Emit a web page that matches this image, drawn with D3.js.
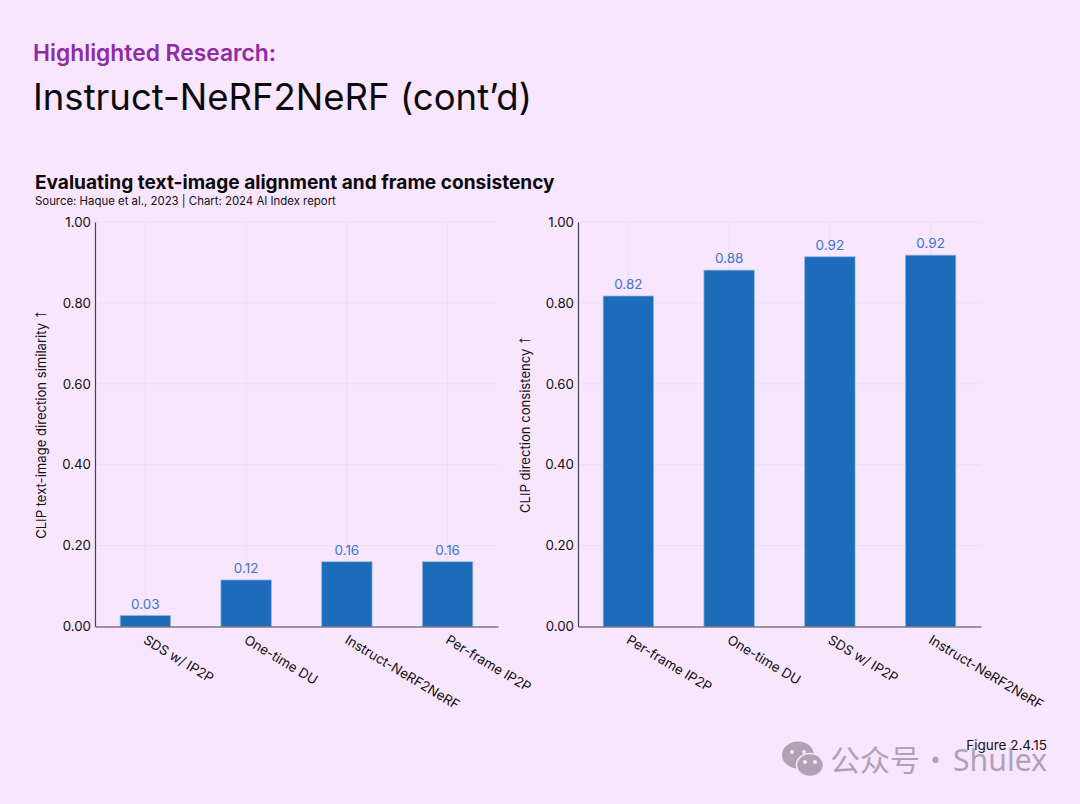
<!DOCTYPE html>
<html>
<head>
<meta charset="utf-8">
<script src="https://cdn.jsdelivr.net/npm/d3@7"></script>
<style>
  html, body { margin: 0; padding: 0; background: #f8e5fe; }
  svg { display: block; }
  text { font-family: Inter, "Noto Sans", sans-serif; }
</style>
</head>
<body>
<div id="chart"></div>
<script>
const leftCategories = ['SDS w/ IP2P', 'One-time DU', 'Instruct-NeRF2NeRF', 'Per-frame IP2P'];
const leftValues = [0.027, 0.115, 0.16, 0.16];
const leftLabels = ['0.03', '0.12', '0.16', '0.16'];

const rightCategories = ['Per-frame IP2P', 'One-time DU', 'SDS w/ IP2P', 'Instruct-NeRF2NeRF'];
const rightValues = [0.817, 0.881, 0.914, 0.918];
const rightLabels = ['0.82', '0.88', '0.92', '0.92'];

const yTicks = [0, 0.2, 0.4, 0.6, 0.8, 1];

const width = 1080;
const height = 804;
const plotTop = 222;
const plotBottom = 626.5;

const svg = d3.select('#chart')
  .append('svg')
  .attr('width', width)
  .attr('height', height);

svg.append('rect')
  .attr('width', width)
  .attr('height', height)
  .attr('fill', '#f8e5fe');

// Headings
svg.append('text')
  .attr('x', 33).attr('y', 61)
  .attr('font-size', 22.8).attr('font-weight', 600)
  .attr('fill', '#8f2ba3')
  .text('Highlighted Research:');
svg.append('text')
  .attr('x', 33).attr('y', 110)
  .attr('font-size', 36.5).attr('font-weight', 400)
  .attr('fill', '#0a0a0a')
  .text('Instruct-NeRF2NeRF (cont’d)');
svg.append('text')
  .attr('x', 35).attr('y', 188.5)
  .attr('font-size', 19.1).attr('font-weight', 700)
  .attr('fill', '#0a0a0a')
  .text('Evaluating text-image alignment and frame consistency');
svg.append('text')
  .attr('x', 35).attr('y', 205)
  .attr('font-size', 11.4)
  .attr('fill', '#111')
  .text('Source: Haque et al., 2023 | Chart: 2024 AI Index report');

function drawPanel(x0, x1, categories, values, labels, yTitle, titleX) {
  const x = d3.scaleBand().domain(categories).range([x0, x1]).paddingInner(0.5).paddingOuter(0.25);
  const y = d3.scaleLinear().domain([0, 1]).range([plotBottom, plotTop]);
  const g = svg.append('g');

  // Grid
  g.append('g').selectAll('line')
    .data(yTicks.slice(1))
    .enter().append('line')
    .attr('x1', x0).attr('x2', x1)
    .attr('y1', d => y(d)).attr('y2', d => y(d))
    .attr('stroke', '#f0dcf6').attr('stroke-width', 1);
  g.append('g').selectAll('line')
    .data(categories)
    .enter().append('line')
    .attr('x1', d => x(d) + x.bandwidth() / 2)
    .attr('x2', d => x(d) + x.bandwidth() / 2)
    .attr('y1', plotTop).attr('y2', plotBottom)
    .attr('stroke', '#f0dcf6').attr('stroke-width', 1);

  // Bars
  g.append('g').selectAll('rect')
    .data(categories)
    .enter().append('rect')
    .attr('x', d => x(d))
    .attr('y', (d, i) => y(values[i]))
    .attr('width', x.bandwidth())
    .attr('height', (d, i) => plotBottom - y(values[i]))
    .attr('fill', '#1c6cb9')
    .attr('stroke', '#8db4e4').attr('stroke-width', 0.7);

  // Value labels
  g.append('g').selectAll('text')
    .data(categories)
    .enter().append('text')
    .attr('x', d => x(d) + x.bandwidth() / 2)
    .attr('y', (d, i) => y(values[i]) - 7)
    .attr('text-anchor', 'middle')
    .attr('font-size', 13.5)
    .attr('fill', '#3a78c9')
    .text((d, i) => labels[i]);

  // Y axis
  const yAxis = g.append('g')
    .attr('transform', 'translate(' + x0 + ',0)')
    .call(d3.axisLeft(y).tickValues(yTicks).tickFormat(d3.format('.2f')).tickSize(0).tickPadding(4));
  yAxis.select('.domain').attr('stroke', '#444').attr('stroke-width', 1.2);
  yAxis.selectAll('text')
    .attr('font-size', 13.3).attr('fill', '#111')
    .style('font-family', 'Inter, "Noto Sans", sans-serif');

  // X axis
  const xAxis = g.append('g')
    .attr('transform', 'translate(0,' + plotBottom + ')')
    .call(d3.axisBottom(x).tickSize(0).tickFormat(''));
  xAxis.select('.domain').attr('stroke', '#444').attr('stroke-width', 1.2);
  xAxis.selectAll('.tick text').remove();

  // Rotated category labels, start-anchored under each bar
  g.append('g').selectAll('text')
    .data(categories)
    .enter().append('text')
    .attr('transform', d => 'translate(' + (x(d) + x.bandwidth() / 2 - 3) + ',' + (plotBottom + 16) + ') rotate(31)')
    .attr('font-size', 13.4)
    .attr('fill', '#111')
    .text(d => d);

  const title = svg.append('text')
    .attr('transform', 'translate(' + titleX + ',' + (plotTop + plotBottom) / 2 + ') rotate(-90)')
    .attr('text-anchor', 'middle')
    .attr('font-size', 13.1)
    .attr('fill', '#111');
  title.append('tspan').text(yTitle + ' ');
  title.append('tspan')
    .attr('font-size', 19)
    .style('font-family', '"Liberation Sans"')
    .text('↑');
}

drawPanel(95, 498, leftCategories, leftValues, leftLabels, 'CLIP text-image direction similarity', 46);
drawPanel(578, 981, rightCategories, rightValues, rightLabels, 'CLIP direction consistency', 530);

// Figure number and watermark
svg.append('text')
  .attr('x', 1047).attr('y', 750)
  .attr('text-anchor', 'end')
  .attr('font-size', 13.5)
  .attr('fill', '#111')
  .text('Figure 2.4.15');

const mark = svg.append('g').attr('fill', '#b0a2b4');
mark.append('ellipse').attr('cx', 798).attr('cy', 755).attr('rx', 16).attr('ry', 13.5);
mark.append('ellipse').attr('cx', 810).attr('cy', 765).attr('rx', 13.5).attr('ry', 11.5)
  .attr('stroke', '#f8e5fe').attr('stroke-width', 1.5);
mark.selectAll('circle.eye')
  .data([[792, 752], [804, 752], [805, 762], [815, 762]])
  .enter().append('circle')
  .attr('cx', d => d[0]).attr('cy', d => d[1]).attr('r', 2)
  .attr('fill', '#f8e5fe');

svg.append('text')
  .attr('x', 830).attr('y', 771)
  .attr('font-size', 30)
  .attr('fill', '#b0a2b4')
  .style('font-family', '"Noto Sans CJK SC"')
  .text('公众号');
svg.append('text')
  .attr('x', 921).attr('y', 771)
  .attr('font-size', 29)
  .attr('fill', '#b0a2b4')
  .style('font-family', '"Noto Sans CJK SC"')
  .text('·');
svg.append('text')
  .attr('x', 953).attr('y', 771)
  .attr('font-size', 30.2)
  .attr('fill', '#b0a2b4')
  .style('font-family', '"Noto Sans", sans-serif')
  .text('Shulex');
</script>
</body>
</html>
